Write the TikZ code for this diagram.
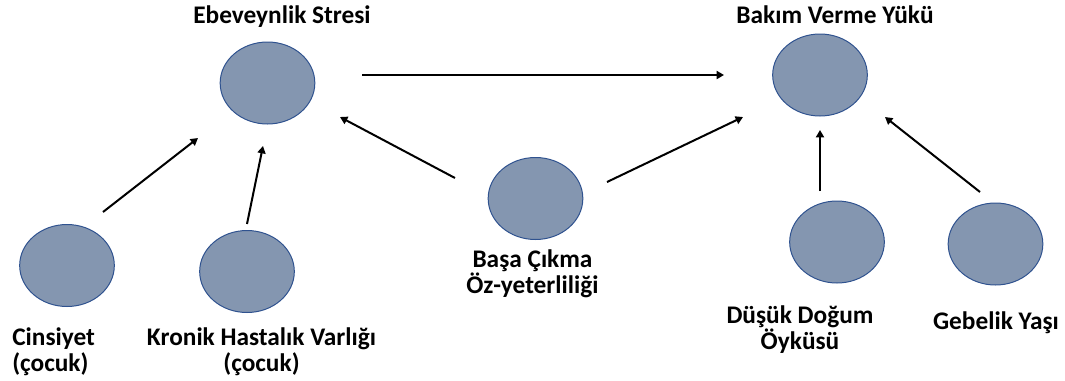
\documentclass[tikz,border=0pt]{standalone}
\usepackage{fontspec}
\setmainfont{Carlito}
\usetikzlibrary{arrows.meta,shapes.geometric}

\begin{document}
\begin{tikzpicture}[x=0.75pt,y=0.75pt,yscale=-1,xscale=1,
  var/.style={ellipse,draw={rgb, 255:red, 47; green, 82; blue, 143},fill={rgb, 255:red, 132; green, 150; blue, 176},line width=0.75pt,minimum width=71pt,minimum height=61.5pt,inner sep=0pt},
  lbl/.style={font=\bfseries\fontsize{19}{19.5}\selectfont,inner sep=0pt,align=center},
  arr/.style={-{Triangle[length=5.5pt,width=6pt]},line width=1.5pt}]
\useasboundingbox (0,0) rectangle (1065,380);

%Shape: Ellipses
\node [var] (ebe) at (267.5,83) {};
\node [var] (bak) at (820,75) {};
\node [var] (cins) at (67,265.5) {};
\node [var] (kron) at (247,271.5) {};
\node [var] (basa) at (535.5,198.5) {};
\node [var] (dus) at (837,242) {};
\node [var] (geb) at (995.5,244) {};

% Text Node (base = last line)
\node [lbl,anchor=base] (ebeT) at (282,23) {Ebeveynlik Stresi};
\node [lbl,anchor=base] (bakT) at (835,23) {Bakım Verme Yükü};
\node [lbl,anchor=base west,align=left] (cinsT) at (12,371) {Cinsiyet\\(çocuk)};
\node [lbl,anchor=base] (kronT) at (261.5,371) {Kronik Hastalık Varlığı\\(çocuk)};
\node [lbl,anchor=base] (basaT) at (532.5,293) {Başa Çıkma\\Öz-yeterliliği};
\node [lbl,anchor=base] (dusT) at (800,349) {Düşük Doğum\\Öyküsü};
\node [lbl,anchor=base] (gebT) at (996,329) {Gebelik Yaşı};

%Arrow ends
\coordinate (e1) at (362,75);   \coordinate (b1) at (724,75);
\coordinate (c1) at (103,212);  \coordinate (e2) at (198,138);
\coordinate (k1) at (247,224);  \coordinate (e3) at (263,146);
\coordinate (s1) at (455,178);  \coordinate (e4) at (340,117);
\coordinate (s2) at (607,182);  \coordinate (b2) at (743,117);
\coordinate (d1) at (820,191);  \coordinate (b3) at (820,130);
\coordinate (g1) at (980,192);  \coordinate (b4) at (885,117);

%Straight Lines
\draw [arr] (e1) -- (b1);
\draw [arr] (c1) -- (e2);
\draw [arr] (k1) -- (e3);
\draw [arr] (s1) -- (e4);
\draw [arr] (s2) -- (b2);
\draw [arr] (d1) -- (b3);
\draw [arr] (g1) -- (b4);

\end{tikzpicture}
\end{document}
